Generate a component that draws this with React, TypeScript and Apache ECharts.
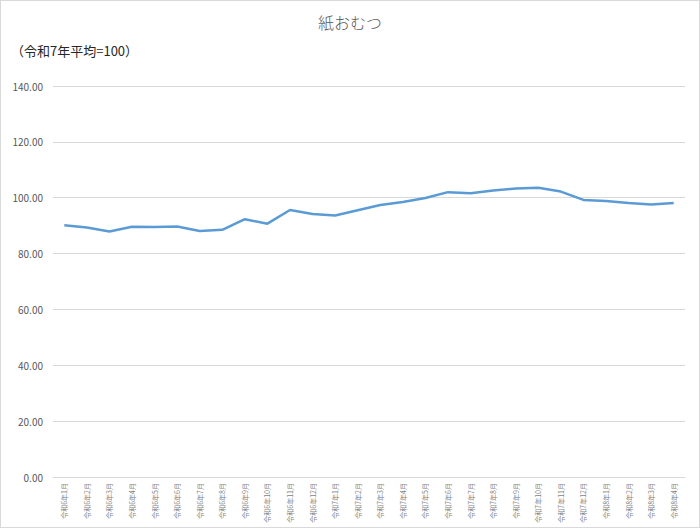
import React, { useEffect, useRef } from "react";
import * as echarts from "echarts";

const categories = [
  "令和6年1月", "令和6年2月", "令和6年3月", "令和6年4月", "令和6年5月", "令和6年6月",
  "令和6年7月", "令和6年8月", "令和6年9月", "令和6年10月", "令和6年11月", "令和6年12月",
  "令和7年1月", "令和7年2月", "令和7年3月", "令和7年4月", "令和7年5月", "令和7年6月",
  "令和7年7月", "令和7年8月", "令和7年9月", "令和7年10月", "令和7年11月", "令和7年12月",
  "令和8年1月", "令和8年2月", "令和8年3月", "令和8年4月",
];

const values = [
  90.1, 89.3, 87.9, 89.6, 89.5, 89.7, 88.1, 88.5, 92.3, 90.7, 95.6, 94.2,
  93.6, 95.5, 97.4, 98.5, 99.9, 102.0, 101.6, 102.6, 103.3, 103.6, 102.2, 99.2,
  98.8, 98.1, 97.6, 98.1,
];

const title = "紙おむつ";
const subtitle = "（令和7年平均=100）";
const yMin = 0;
const yMax = 140;
const yStep = 20;

const FONT = "'Noto Sans CJK JP', 'Noto Sans', sans-serif";

export default function App() {
  const ref = useRef<HTMLDivElement>(null);
  useEffect(() => {
    document.body.style.margin = "0";
    const chart = echarts.init(ref.current!, null, { renderer: "svg" });
    chart.setOption({
      animation: false,
      backgroundColor: "#ffffff",
      textStyle: { fontFamily: FONT },
      title: [
        {
          text: title,
          left: "center",
          top: 8,
          textStyle: { fontSize: 16, fontWeight: 300, color: "#595959", fontFamily: FONT },
        },
        {
          text: subtitle,
          left: 5,
          top: 38,
          textStyle: { fontSize: 13, fontWeight: "normal", color: "#262626", fontFamily: FONT },
        },
      ],
      grid: { left: 52, right: 14, top: 85, bottom: 50, containLabel: false },
      xAxis: {
        type: "category",
        data: categories,
        boundaryGap: true,
        axisLine: { show: true, lineStyle: { color: "#d9d9d9", width: 1 } },
        axisTick: { show: false },
        axisLabel: {
          rotate: 90,
          interval: 0,
          fontSize: 7,
          color: "#7f7f7f",
          margin: 6,
          fontFamily: FONT,
        },
      },
      yAxis: {
        type: "value",
        min: yMin,
        max: yMax,
        interval: yStep,
        axisLine: { show: false },
        axisTick: { show: false },
        splitLine: { lineStyle: { color: "#d9d9d9", width: 1 } },
        axisLabel: {
          fontSize: 10,
          color: "#595959",
          margin: 10,
          fontFamily: FONT,
          formatter: (v: number) => v.toFixed(2),
        },
      },
      series: [
        {
          type: "line",
          data: values,
          showSymbol: false,
          symbol: "none",
          lineStyle: { color: "#5b9bd5", width: 2.5 },
          itemStyle: { color: "#5b9bd5" },
        },
      ],
    });
    return () => chart.dispose();
  }, []);
  return (
    <div
      ref={ref}
      style={{
        position: "absolute",
        left: 0,
        top: 0,
        width: 700,
        height: 528,
        boxSizing: "border-box",
        border: "1px solid #d9d9d9",
      }}
    />
  );
}
